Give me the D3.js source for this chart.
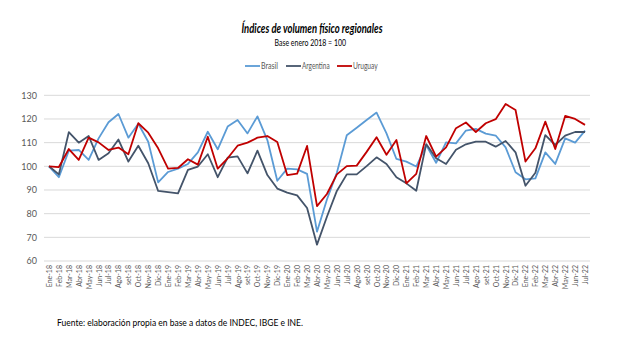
<!DOCTYPE html>
<html>
<head>
<meta charset="utf-8">
<script src="https://cdn.jsdelivr.net/npm/d3@7"></script>
<style>
  body { margin: 0; background: #fff; }
  text { font-family: Lato, "Liberation Sans", sans-serif; }
</style>
</head>
<body>
<div id="chart"></div>
<script>
// month labels, Ene-18 .. Jul-22
const months = [
  "Ene-18","Feb-18","Mar-18","Abr-18","May-18","Jun-18","Jul-18","Ago-18","set-18","Oct-18","Nov-18","Dic-18",
  "Ene-19","Feb-19","Mar-19","Abr-19","May-19","Jun-19","Jul-19","Ago-19","set-19","Oct-19","Nov-19","Dic-19",
  "Ene-20","Feb-20","Mar-20","Abr-20","May-20","Jun-20","Jul-20","Ago-20","set-20","Oct-20","Nov-20","Dic-20",
  "Ene-21","Feb-21","Mar-21","Abr-21","May-21","Jun-21","Jul-21","Ago-21","set-21","Oct-21","Nov-21","Dic-21",
  "Ene-22","Feb-22","Mar-22","Abr-22","May-22","Jun-22","Jul-22"
];

const brasil = [
  100, 95.4, 106.6, 106.9, 102.7, 111.8, 118.6, 122.1, 112.1, 118, 110.4, 93.2,
  97.6, 99, 101, 105.9, 114.6, 107.2, 116.8, 119.6, 113.9, 121.1, 111.1, 93.9,
  99, 98.7, 96.8, 72.4, 86, 97.3, 113.1, 116.3, 119.6, 122.7, 113.9, 103.1,
  102, 99.9, 109, 101.5, 110.1, 109.7, 115.1, 115.8, 113.8, 113, 108, 97.5,
  94.5, 94.9, 105.9, 101, 111.8, 110, 115.1
];

const argentina = [
  100, 96.6, 114.4, 110, 112.8, 102.7, 105.5, 111.3, 102, 108.7, 101.3, 89.6,
  89.1, 88.6, 98.5, 99.9, 105.1, 95.4, 103.7, 104.2, 97, 106.6, 96.3, 90.6,
  88.9, 87.7, 82.4, 66.9, 78.7, 89.6, 96.6, 96.6, 100.1, 103.8, 101, 95.4,
  92.8, 89.7, 109.4, 103.4, 101, 107, 109.3, 110.4, 110.4, 108.3, 110.7, 105.9,
  91.8, 97.3, 113.2, 109, 113, 114.5, 114.5
];

const uruguay = [
  100, 99.7, 107.3, 102.7, 112.1, 110.1, 106.9, 107.9, 105.1, 118.2, 114.2, 107.6,
  99, 99.3, 103, 100.7, 112.5, 99, 103.4, 108.7, 110, 112.1, 112.8, 110.3,
  96.3, 96.9, 108.6, 83.2, 88.3, 96.6, 100.1, 100.3, 106.1, 112.3, 104.9, 111.1,
  92.8, 96.8, 112.8, 104.1, 108, 116.1, 118.5, 114.5, 118.2, 119.9, 126.3, 123.8,
  102, 107.6, 118.9, 107.3, 121.3, 120, 117.5
];

const yTicks = [60, 70, 80, 90, 100, 110, 120, 130];

const series = [
  { name: "Brasil", values: brasil, color: "#5b9bd5" },
  { name: "Argentina", values: argentina, color: "#44546a" },
  { name: "Uruguay", values: uruguay, color: "#c00000" }
];

const width = 630, height = 348;

const svg = d3.select("#chart")
  .append("svg")
  .attr("width", width)
  .attr("height", height);

const x = d3.scalePoint()
  .domain(months)
  .range([44, 590])
  .padding(0.5);

const y = d3.scaleLinear()
  .domain([60, 130])
  .range([261, 95.3]);

// gridlines
svg.append("g")
  .selectAll("line")
  .data(yTicks)
  .join("line")
  .attr("x1", 44)
  .attr("x2", 590)
  .attr("y1", d => y(d))
  .attr("y2", d => y(d))
  .attr("stroke", "#d9d9d9")
  .attr("stroke-width", 1);

// y axis labels
const yAxis = svg.append("g")
  .attr("transform", "translate(44,0)")
  .call(d3.axisLeft(y).tickValues(yTicks).tickSize(0).tickPadding(7));
yAxis.select(".domain").remove();
yAxis.selectAll("text")
  .attr("fill", "#595959")
  .style("font-family", "Lato, sans-serif")
  .style("font-size", "9px");

// x axis labels, rotated
const xAxis = svg.append("g")
  .attr("transform", "translate(0,261)")
  .call(d3.axisBottom(x).tickSize(0).tickPadding(0));
xAxis.select(".domain").remove();
xAxis.selectAll("text")
  .attr("fill", "#595959")
  .style("font-family", "Lato, sans-serif")
  .style("font-size", "7px")
  .attr("text-anchor", "end")
  .attr("dy", "0.35em")
  .attr("transform", "translate(0,4) rotate(-90)");

// lines
const line = d3.line()
  .x((d, i) => x(months[i]))
  .y(d => y(d));

svg.append("g")
  .selectAll("path")
  .data(series)
  .join("path")
  .attr("d", d => line(d.values))
  .attr("fill", "none")
  .attr("stroke", d => d.color)
  .attr("stroke-width", 1.8)
  .attr("stroke-linejoin", "round");

// title
svg.append("text")
  .attr("x", 241.5)
  .attr("y", 32.5)
  .attr("textLength", 141)
  .attr("lengthAdjust", "spacingAndGlyphs")
  .style("font-size", "12.5px")
  .style("font-weight", "bold")
  .style("font-style", "italic")
  .attr("fill", "#000")
  .text("Índices de volumen físico regionales");

svg.append("text")
  .attr("x", 274.5)
  .attr("y", 45.5)
  .attr("textLength", 71.5)
  .attr("lengthAdjust", "spacingAndGlyphs")
  .style("font-size", "10px")
  .attr("fill", "#000")
  .text("Base enero 2018 = 100");

// legend
const legendX = [245, 286, 337];
const legendW = [17, 27.6, 24.7];
const legend = svg.append("g")
  .selectAll("g")
  .data(series)
  .join("g")
  .attr("transform", (d, i) => `translate(${legendX[i]},66)`);

legend.append("line")
  .attr("x1", 0)
  .attr("x2", 15)
  .attr("stroke", d => d.color)
  .attr("stroke-width", 1.8);

legend.append("text")
  .attr("x", 16)
  .attr("dy", "0.35em")
  .attr("textLength", (d, i) => legendW[i])
  .attr("lengthAdjust", "spacingAndGlyphs")
  .style("font-size", "9px")
  .attr("fill", "#595959")
  .text(d => d.name);

// source note
svg.append("text")
  .attr("x", 57)
  .attr("y", 326)
  .attr("textLength", 246)
  .attr("lengthAdjust", "spacingAndGlyphs")
  .style("font-size", "9.5px")
  .attr("fill", "#000")
  .text("Fuente: elaboración propia en base a datos de INDEC, IBGE e INE.");
</script>
</body>
</html>
